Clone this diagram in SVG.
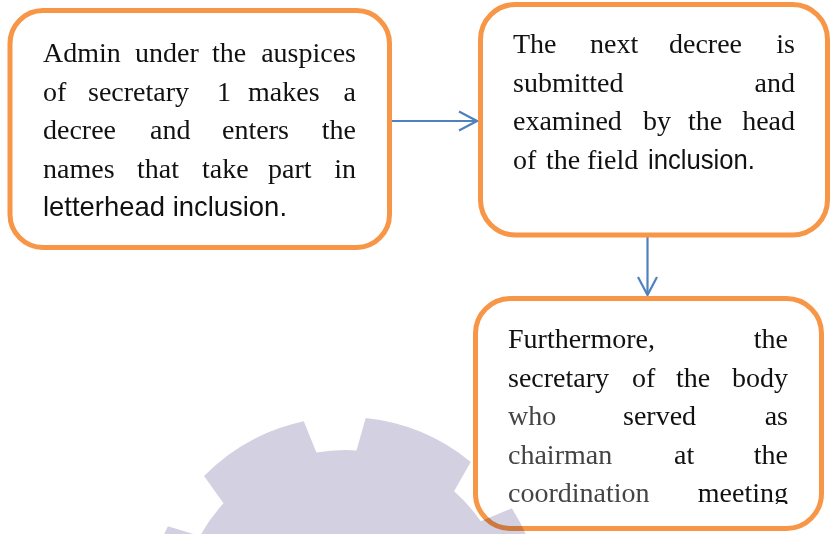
<svg xmlns="http://www.w3.org/2000/svg" width="833" height="534" viewBox="0 0 833 534">
<style>
.box{fill:#ffffff;stroke:#F79646;stroke-width:5}
.t{font-family:"Liberation Serif","Times New Roman",serif;font-size:28px;fill:#111}
.s{font-family:"Liberation Sans",Arial,sans-serif;font-size:28px;fill:#111}
.g{fill:#444}
.e{text-anchor:end}
.conn{stroke:#4F81BD;stroke-width:2.2;fill:none}
.wm{fill:#D3D0E2;mix-blend-mode:multiply}
</style>
<defs>
<marker id="arr" markerUnits="userSpaceOnUse" markerWidth="22" markerHeight="24" viewBox="0 0 22 24" refX="20" refY="12" orient="auto">
<path d="M2 2.5 L20 12 L2 21.5" fill="none" stroke="#4F81BD" stroke-width="2.2"/>
</marker>
<clipPath id="clip3"><rect x="470" y="300" width="360" height="204"/></clipPath>
</defs>
<rect width="833" height="534" fill="#ffffff"/>
<g id="connectors">
<line class="conn" x1="392" y1="121" x2="477" y2="121" marker-end="url(#arr)"/>
<line class="conn" x1="647.5" y1="237" x2="647.5" y2="295" marker-end="url(#arr)"/>
</g>
<g id="node1">
<rect class="box" x="10" y="10.5" width="379.5" height="237" rx="33" ry="33"/>
<text class="t" y="62"><tspan x="43">Admin</tspan><tspan x="135">under</tspan><tspan x="212">the</tspan><tspan x="356" class="e">auspices</tspan></text>
<text class="t" y="100.5"><tspan x="43">of</tspan><tspan x="88">secretary</tspan><tspan x="217">1</tspan><tspan x="248">makes</tspan><tspan x="356" class="e">a</tspan></text>
<text class="t" y="139"><tspan x="43">decree</tspan><tspan x="150">and</tspan><tspan x="222">enters</tspan><tspan x="356" class="e">the</tspan></text>
<text class="t" y="177.5"><tspan x="43">names</tspan><tspan x="137">that</tspan><tspan x="202">take</tspan><tspan x="268">part</tspan><tspan x="356" class="e">in</tspan></text>
<text class="s" x="43" y="216" textLength="244" lengthAdjust="spacingAndGlyphs">letterhead inclusion.</text>
</g>
<g id="node2">
<rect class="box" x="480.5" y="4.5" width="347" height="230.5" rx="35" ry="35"/>
<text class="t" y="53"><tspan x="513">The</tspan><tspan x="590">next</tspan><tspan x="669">decree</tspan><tspan x="795" class="e">is</tspan></text>
<text class="t" y="91.5"><tspan x="513">submitted</tspan><tspan x="795" class="e">and</tspan></text>
<text class="t" y="130"><tspan x="513">examined</tspan><tspan x="643">by</tspan><tspan x="688">the</tspan><tspan x="795" class="e">head</tspan></text>
<text class="t" y="169"><tspan x="513">of</tspan><tspan x="546">the</tspan><tspan x="587">field</tspan></text>
<text class="s" x="648" y="169" textLength="107" lengthAdjust="spacingAndGlyphs">inclusion.</text>
</g>
<g id="node3">
<rect class="box" x="475.5" y="298.5" width="346" height="230" rx="35" ry="35"/>
<g clip-path="url(#clip3)">
<text class="t" y="348"><tspan x="508">Furthermore,</tspan><tspan x="788" class="e">the</tspan></text>
<text class="t" y="386.5"><tspan x="508">secretary</tspan><tspan x="632">of</tspan><tspan x="676">the</tspan><tspan x="788" class="e">body</tspan></text>
<text class="t" y="425"><tspan x="508" class="g">who</tspan><tspan x="623">served</tspan><tspan x="788" class="e">as</tspan></text>
<text class="t" y="463.5"><tspan x="508" class="g">chairman</tspan><tspan x="674">at</tspan><tspan x="788" class="e">the</tspan></text>
<text class="t" y="502"><tspan x="508" class="g">coordination</tspan><tspan x="788" class="e">meeting</tspan></text>
</g>
</g>
<path class="wm" d="M 167.9 526.3 L 200.1 536.0 A 165 165 0 0 1 223.5 503.3 L 204.0 476.0 A 198 198 0 0 1 303.8 421.3 L 316.4 452.5 A 165 165 0 0 1 356.5 450.4 L 365.7 418.1 A 198 198 0 0 1 470.7 462.0 L 454.1 491.2 A 165 165 0 0 1 480.8 521.3 L 511.8 508.3 A 198 198 0 0 1 543.0 618.0 L 509.8 623.2 A 165 165 0 0 1 502.9 662.9 L 532.4 679.0 A 198 198 0 0 1 466.1 771.7 L 441.3 749.0 A 165 165 0 0 1 406.0 768.3 L 411.7 801.4 A 198 198 0 0 1 298.1 807.4 L 300.3 773.8 A 165 165 0 0 1 263.2 758.3 L 241.0 783.5 A 198 198 0 0 1 165.3 698.1 L 192.9 678.9 A 165 165 0 0 1 181.9 640.2 L 148.4 638.4 A 198 198 0 0 1 167.9 526.3 Z"/>
</svg>
